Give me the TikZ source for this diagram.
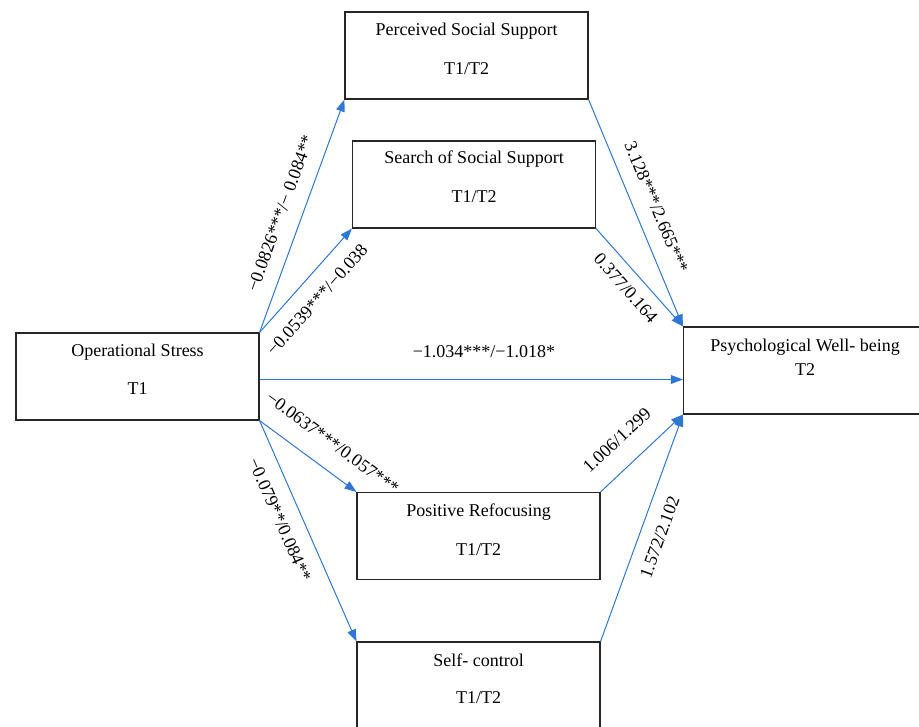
\documentclass[tikz,border=0pt]{standalone}
\usepackage{fontspec}
\setmainfont{Liberation Serif}
\usetikzlibrary{arrows.meta}
\definecolor{pathblue}{RGB}{45,120,212}
\begin{document}
\begin{tikzpicture}[x=0.75pt,y=-0.75pt,
		font=\fontsize{13.5}{16}\selectfont,
		box/.style={draw=black!85,line width=0.8pt,minimum width=182.25pt,minimum height=65.25pt,inner sep=0pt},
		txt/.style={inner sep=0pt},
		arr/.style={draw=pathblue,line width=0.75pt,-{Triangle[length=9pt,width=6.5pt]}},
		lbl/.style={sloped,inner sep=0pt}]
		\useasboundingbox (0,0) rectangle (919,726);
		\clip (0,0) rectangle (919,726);
		% boxes
		\node[box] (pss) at (466.5,55.5) {};
		\node[box] (sss) at (474,184.5) {};
		\node[box] (os) at (137.5,376.5) {};
		\node[box] (pwb) at (805,370.5) {};
		\node[box] (pr) at (478.5,536) {};
		\node[box] (sc) at (478.5,685.5) {};
		\node[txt] (pss-a) at (466.5,31) {Perceived Social Support};
		\node[txt] (pss-b) at (466.5,69) {T1/T2};
		\node[txt] (sss-a) at (474,159) {Search of Social Support};
		\node[txt] (sss-b) at (474,197) {T1/T2};
		\node[txt] (os-a) at (137.5,352) {Operational Stress};
		\node[txt] (os-b) at (137.5,389) {T1};
		\node[txt] (pwb-a) at (805,347) {Psychological Well- being};
		\node[txt] (pwb-b) at (805,370) {T2};
		\node[txt] (pr-a) at (478.5,512) {Positive Refocusing};
		\node[txt] (pr-b) at (478.5,550) {T1/T2};
		\node[txt] (sc-a) at (478.5,660) {Self- control};
		\node[txt] (sc-b) at (478.5,698) {T1/T2};
		% paths
		\coordinate (os-out) at ([yshift=-2.25pt]os.east);
		\draw[arr] (os.north east) -- node[lbl,above=11pt,pos=.48] {−0.0826***/− 0.084**} (pss.south west);
		\draw[arr] (os.north east) -- node[lbl,below=11pt,pos=.45] {−0.0539***/−0.038} (sss.south west);
		\draw[arr] (os-out) -- node[lbl,above=16pt,pos=.53] {−1.034***/−1.018*} (os-out -| pwb.west);
		\draw[arr] (os.south east) -- node[lbl,above=14pt,pos=.6] {−0.0637***/0.057***} (pr.north west);
		\draw[arr] (os.south east) -- node[lbl,below=11pt,pos=.41] {−0.079**/0.084**} (sc.north west);
		\draw[arr] (pss.south east) -- node[lbl,above=11pt,pos=.51] {3.128***/2.665***} (pwb.north west);
		\draw[arr] (sss.south east) -- node[lbl,below=8pt,pos=.49] {0.377/0.164} (pwb.north west);
		\draw[arr] (pr.north east) -- node[lbl,above=15pt,pos=.42] {1.006/1.299} (pwb.south west);
		\draw[arr] (sc.north east) -- node[lbl,below=10pt,pos=.49] {1.572/2.102} (pwb.south west);
	\end{tikzpicture}
\end{document}
